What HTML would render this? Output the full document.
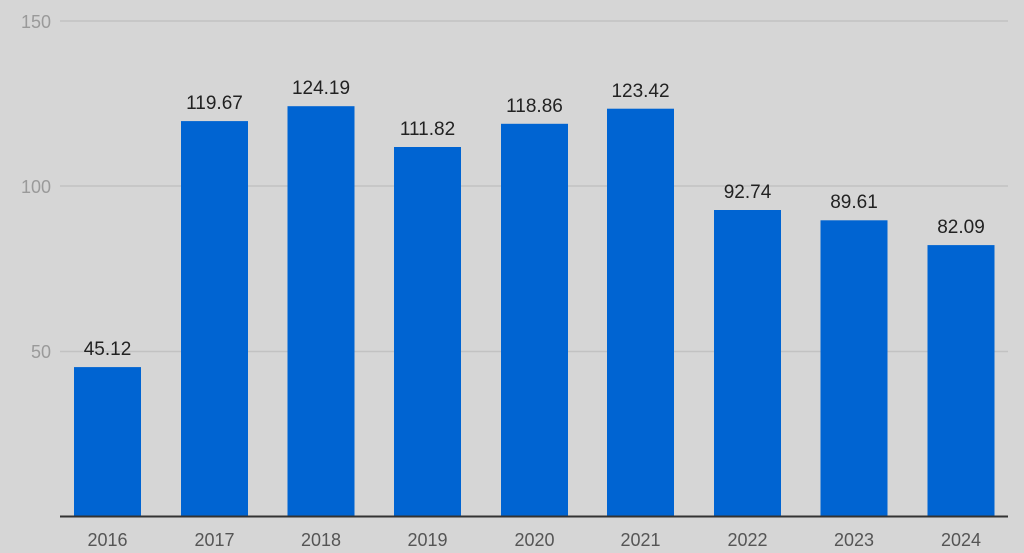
<!DOCTYPE html>
<html><head><meta charset="utf-8"><style>
html,body{margin:0;padding:0;background:#d6d6d6;}
svg{display:block;}
text{font-family:"Liberation Sans",sans-serif;}
</style></head><body>
<svg width="1024" height="553" xmlns="http://www.w3.org/2000/svg">
<rect width="1024" height="553" fill="#d6d6d6"/>
<g stroke="#c2c2c2" stroke-width="1.5">
<line x1="60" y1="21" x2="1008" y2="21"/>
<line x1="60" y1="186" x2="1008" y2="186"/>
<line x1="60" y1="351.5" x2="1008" y2="351.5"/>
</g>
<g fill="#9a9a9a" font-size="18" text-anchor="end">
<text x="51" y="28">150</text>
<text x="51" y="193">100</text>
<text x="51" y="358">50</text>
</g>
<g fill="#0064d2">
<rect x="74" y="367.1" width="67" height="148.9"/>
<rect x="181" y="121.1" width="67" height="394.9"/>
<rect x="287.5" y="106.2" width="67" height="409.8"/>
<rect x="394" y="147" width="67" height="369"/>
<rect x="501" y="123.8" width="67" height="392.2"/>
<rect x="607" y="108.7" width="67" height="407.3"/>
<rect x="714" y="210" width="67" height="306"/>
<rect x="820.5" y="220.3" width="67" height="295.7"/>
<rect x="927.5" y="245.1" width="67" height="270.9"/>
</g>
<line x1="60" y1="516.5" x2="1008" y2="516.5" stroke="#333" stroke-width="2"/>
<g fill="#222" font-size="19" text-anchor="middle">
<text x="107.5" y="355">45.12</text>
<text x="214.5" y="109">119.67</text>
<text x="321" y="94">124.19</text>
<text x="427.5" y="135">111.82</text>
<text x="534.5" y="112">118.86</text>
<text x="640.5" y="97">123.42</text>
<text x="747.5" y="198">92.74</text>
<text x="854" y="208">89.61</text>
<text x="961" y="233">82.09</text>
</g>
<g fill="#555" font-size="18" text-anchor="middle">
<text x="107.5" y="546">2016</text>
<text x="214.5" y="546">2017</text>
<text x="321" y="546">2018</text>
<text x="427.5" y="546">2019</text>
<text x="534.5" y="546">2020</text>
<text x="640.5" y="546">2021</text>
<text x="747.5" y="546">2022</text>
<text x="854" y="546">2023</text>
<text x="961" y="546">2024</text>
</g>
</svg>
</body></html>
